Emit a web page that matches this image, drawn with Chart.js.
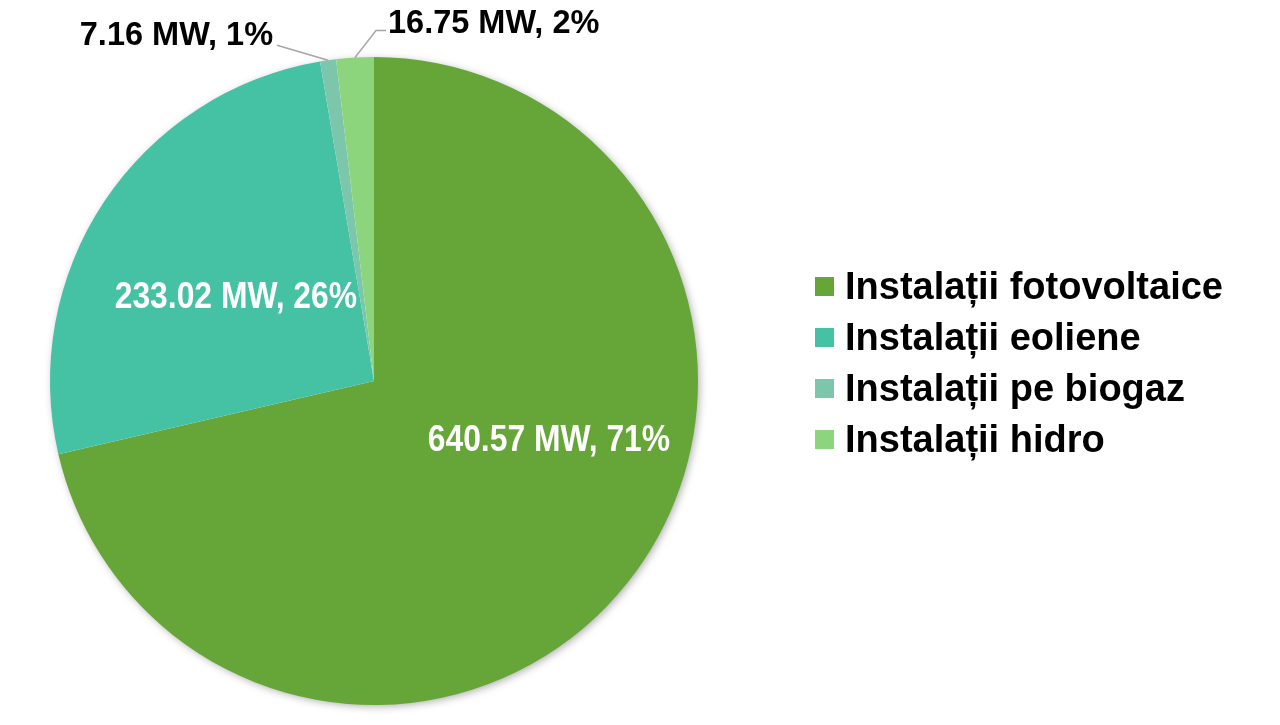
<!DOCTYPE html>
<html>
<head>
<meta charset="utf-8">
<script src="https://cdn.jsdelivr.net/npm/chart.js@4"></script>
<style>
  html, body { margin: 0; padding: 0; background: #fff; }
  #wrap { position: relative; width: 1280px; height: 725px; }
  #legend { position: absolute; left: 815px; top: 261px; font: bold 38px "Liberation Sans", Arial, sans-serif; color: #000; }
  #legend div { height: 51px; line-height: 51px; white-space: nowrap; }
  #legend span { display: inline-block; width: 19px; height: 19px; margin-right: 11px; vertical-align: 3px; }
</style>
</head>
<body>
<div id="wrap">
  <canvas id="c" width="1280" height="725"></canvas>
  <div id="legend"></div>
</div>
<script>
// categories and values (MW)
const categories = ['Instalații fotovoltaice', 'Instalații eoliene', 'Instalații pe biogaz', 'Instalații hidro'];
const capacityMW = [640.57, 233.02, 7.16, 16.75];
const percents = [71, 26, 1, 2];

const colors = ['#66a638', '#45c1a4', '#7cc6ab', '#8dd57c'];

// where each data label goes: inside (angle deg clockwise from top, radius fraction)
// or outside with a leader line (elbow offset from slice edge)
const labelStyle = [
  { inside: true, angle: 108.7, r: 0.57 },
  { inside: true, angle: 301.5, r: 0.50 },
  { inside: false, elbow: [-51, -15], align: 'right', tx: -4, ty: -9 },
  { inside: false, elbow: [21, -27], hook: 10, align: 'left', tx: 12, ty: -7 }
];

const legendEl = document.getElementById('legend');
categories.forEach((c, i) => {
  const row = document.createElement('div');
  row.innerHTML = '<span style="background:' + colors[i] + '"></span>' + c;
  legendEl.appendChild(row);
});

const pieShadow = {
  id: 'pieShadow',
  beforeDatasetsDraw(chart) {
    const arc = chart.getDatasetMeta(0).data[0];
    if (!arc) return;
    const ctx = chart.ctx;
    ctx.save();
    ctx.shadowColor = 'rgba(0,0,0,0.35)';
    ctx.shadowBlur = 9;
    ctx.shadowOffsetX = 2;
    ctx.shadowOffsetY = 2;
    ctx.fillStyle = '#fff';
    ctx.beginPath();
    ctx.arc(arc.x, arc.y, arc.outerRadius - 1, 0, Math.PI * 2);
    ctx.fill();
    ctx.restore();
  }
};

const sliceLabels = {
  id: 'sliceLabels',
  afterDatasetsDraw(chart) {
    const ctx = chart.ctx;
    const meta = chart.getDatasetMeta(0);
    meta.data.forEach((arc, i) => {
      const txt = capacityMW[i].toFixed(2) + ' MW, ' + percents[i] + '%';
      const st = labelStyle[i];
      ctx.save();
      if (st.inside) {
        const a = st.angle * Math.PI / 180;
        const x = arc.x + Math.sin(a) * arc.outerRadius * st.r;
        const y = arc.y - Math.cos(a) * arc.outerRadius * st.r;
        // condensed bold look (no narrow font installed)
        ctx.translate(x, y);
        ctx.scale(0.86, 1);
        ctx.font = 'bold 37px "Liberation Sans", Arial, sans-serif';
        ctx.fillStyle = '#fff';
        ctx.textAlign = 'center';
        ctx.textBaseline = 'middle';
        ctx.fillText(txt, 0, 1);
      } else {
        const mid = (arc.startAngle + arc.endAngle) / 2;
        const ex = arc.x + Math.cos(mid) * arc.outerRadius;
        const ey = arc.y + Math.sin(mid) * arc.outerRadius;
        const kx = ex + st.elbow[0];
        const ky = ey + st.elbow[1];
        ctx.strokeStyle = '#a6a6a6';
        ctx.lineWidth = 1.5;
        ctx.beginPath();
        ctx.moveTo(ex, ey);
        ctx.lineTo(kx, ky);
        if (st.hook) ctx.lineTo(kx + st.hook, ky);
        ctx.stroke();
        ctx.font = 'bold 32.5px "Liberation Sans", Arial, sans-serif';
        ctx.fillStyle = '#000';
        ctx.textAlign = st.align;
        ctx.textBaseline = 'middle';
        ctx.fillText(txt, kx + st.tx, ky + st.ty);
      }
      ctx.restore();
    });
  }
};

new Chart(document.getElementById('c'), {
  type: 'pie',
  data: {
    labels: categories,
    datasets: [{
      data: capacityMW,
      backgroundColor: colors,
      borderWidth: 0
    }]
  },
  options: {
    responsive: false,
    animation: false,
    layout: { padding: { left: 50, right: 582, top: 57, bottom: 20 } },
    plugins: {
      legend: { display: false },
      tooltip: { enabled: false }
    }
  },
  plugins: [pieShadow, sliceLabels]
});
</script>
</body>
</html>
